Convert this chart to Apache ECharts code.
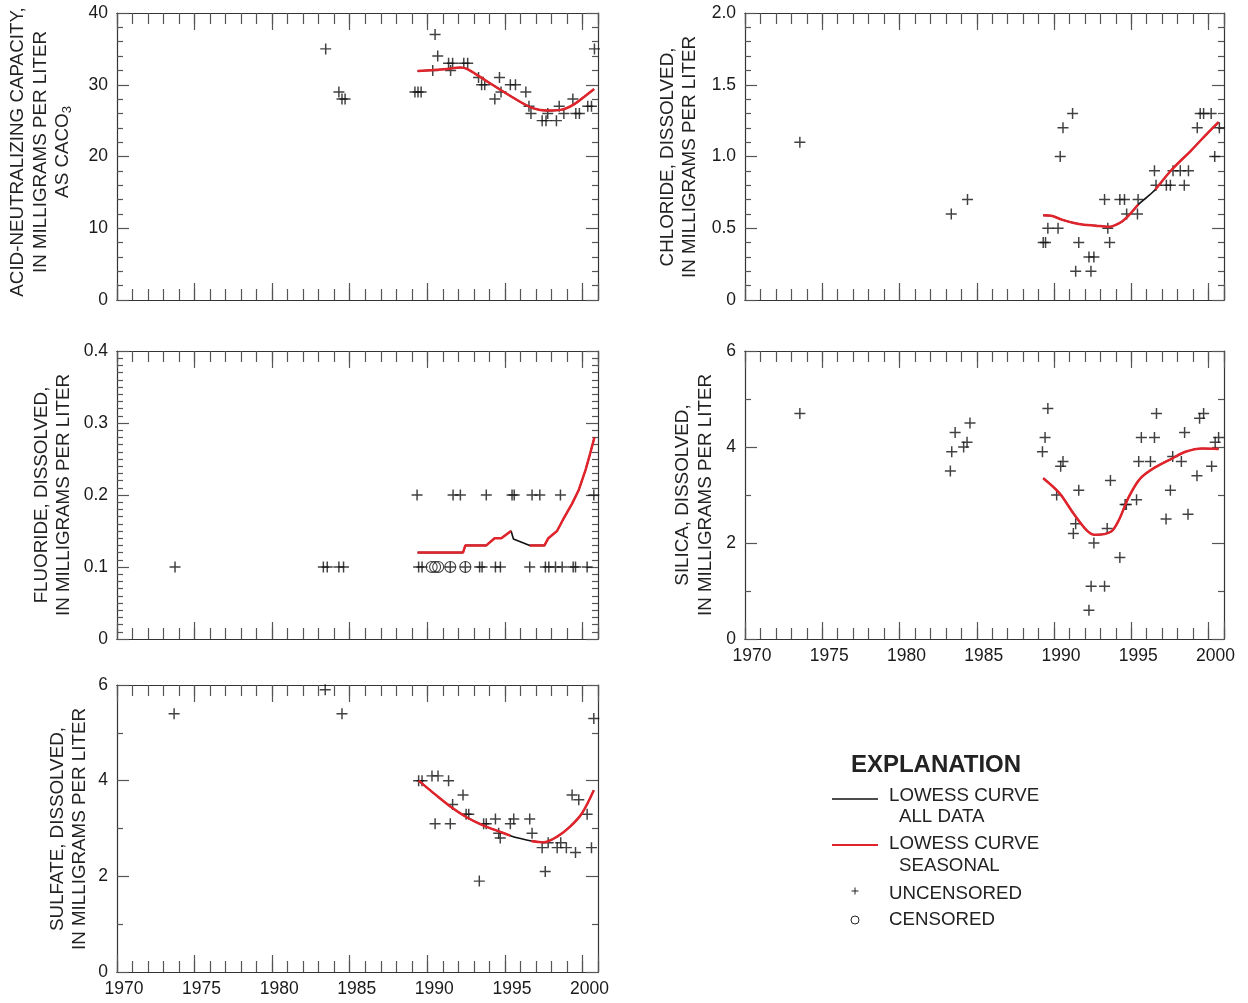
<!DOCTYPE html>
<html><head><meta charset="utf-8">
<script src="https://cdn.jsdelivr.net/npm/echarts@6/dist/echarts.min.js"></script>
<style>html,body{margin:0;padding:0;background:#fff}#c{width:1248px;height:1003px}</style>
</head><body><div id="c"></div>
<script>
// ---------- DATA ----------
// Acid-neutralizing capacity (mg/L as CaCO3)
const ancYears  = [1983.45,1984.3,1984.5,1984.7,1989.2,1989.4,1989.6,1990.35,1990.5,1990.67,1991.37,1991.5,1991.63,1992.35,1992.6,1993.3,1993.5,1993.7,1994.35,1994.65,1994.75,1995.35,1995.68,1996.35,1996.55,1996.68,1997.4,1997.65,1997.76,1998.32,1998.5,1998.8,1999.38,1999.57,1999.8,2000.34,2000.58,2000.77];
const ancValues = [35,29,28,28,29,29,29,32,37,34,33,32,33,33,33,31,30,30,28,31,29,30,30,29,27,26,25,25,26,25,27,26,28,26,26,27,27,35];
const ancSeasonalYears = [1989.37,1990.4,1991.26,1992.13,1992.56,1993.4,1994.7,1996.0,1996.85,1997.7,1998.6,1999.4,2000.1,2000.75];
const ancSeasonal      = [31.9,32.05,32.2,32.4,32.2,31.1,29.3,27.6,26.7,26.4,26.5,27.2,28.3,29.4];
const ancAllYears = ancSeasonalYears;
const ancAll      = ancSeasonal;

// Chloride (mg/L)
const clYears  = [1973.55,1983.35,1984.4,1989.3,1989.45,1989.6,1990.26,1990.4,1990.58,1991.2,1991.4,1991.6,1992.26,1992.39,1992.58,1993.27,1993.48,1993.6,1994.26,1994.56,1994.7,1995.4,1995.44,1996.5,1996.6,1997.27,1997.53,1997.7,1998.17,1998.43,1998.7,1999.27,1999.46,1999.68,2000.17,2000.4,2000.7];
const clValues = [1.1,0.6,0.7,0.4,0.4,0.5,0.5,1.0,1.2,1.3,0.2,0.4,0.3,0.2,0.3,0.7,0.5,0.4,0.7,0.7,0.6,0.6,0.7,0.9,0.8,0.8,0.8,0.9,0.9,0.8,0.9,1.2,1.3,1.3,1.3,1.0,1.2];
const clSeasonalYears = [1989.3,1989.9,1990.5,1991.6,1992.7,1993.55,1994.3,1994.84,1995.45,1996.0,1996.56,1997.6,1998.9,2000.0,2000.65];
const clSeasonal      = [0.59,0.585,0.56,0.53,0.518,0.51,0.54,0.59,0.665,'-',0.77,0.906,1.045,1.17,1.24];
const clAllYears = [1989.3,1989.9,1990.5,1991.6,1992.7,1993.55,1994.3,1994.84,1995.45,1996.0,1996.56,1997.6,1998.9,2000.0,2000.65];
const clAll      = [0.59,0.585,0.56,0.53,0.518,0.51,0.54,0.59,0.665,0.715,0.77,0.906,1.045,1.17,1.24];

// Fluoride (mg/L)
const fYears  = [1989.34,1991.66,1992.13,1993.8,1995.46,1995.6,1996.75,1997.25,1998.58,2000.73,
                 1973.74,1983.3,1983.55,1984.3,1984.6,1989.44,1989.66,1991.48,1992.45,1993.37,1993.53,1994.39,1994.71,1996.6,1997.61,1997.83,1998.26,1998.69,1999.4,1999.55,2000.3];
const fValues = [0.2,0.2,0.2,0.2,0.2,0.2,0.2,0.2,0.2,0.2,
                 0.1,0.1,0.1,0.1,0.1,0.1,0.1,0.1,0.1,0.1,0.1,0.1,0.1,0.1,0.1,0.1,0.1,0.1,0.1,0.1,0.1];
const fCensoredYears  = [1990.28,1990.5,1990.7,1991.48,1992.45];
const fCensoredValues = [0.1,0.1,0.1,0.1,0.1];
const fSeasonalYears = [1989.37,1992.3,1992.45,1993.8,1994.34,1994.77,1995.4,1996.0,1996.6,1997.55,1997.8,1998.36,1998.8,1999.33,1999.76,2000.2,2000.5,2000.77];
const fSeasonal      = [0.12,0.12,0.13,0.13,0.14,0.14,0.15,'-',0.13,0.13,0.14,0.15,0.168,0.188,0.207,0.235,0.258,0.28];
const fAllYears = [1989.37,1992.3,1992.45,1993.8,1994.34,1994.77,1995.4,1995.55,1996.6,1997.55,1997.8,1998.36,1998.8,1999.33,1999.76,2000.2,2000.5,2000.77];
const fAll      = [0.12,0.12,0.13,0.13,0.14,0.14,0.15,0.139,0.13,0.13,0.14,0.15,0.168,0.188,0.207,0.235,0.258,0.28];

// Silica (mg/L)
const siYears  = [1973.55,1983.29,1983.38,1983.6,1984.15,1984.37,1984.56,1989.25,1989.42,1989.6,1990.17,1990.43,1990.58,1991.25,1991.4,1991.6,1992.26,1992.4,1992.58,1993.27,1993.44,1993.65,1994.26,1994.6,1994.68,1995.34,1995.48,1995.65,1996.24,1996.5,1996.63,1997.25,1997.53,1997.68,1998.24,1998.45,1998.67,1999.25,1999.42,1999.68,2000.2,2000.43,2000.65];
const siValues = [4.7,3.5,3.9,4.3,4.0,4.1,4.5,3.9,4.2,4.8,3.0,3.6,3.7,2.2,2.4,3.1,0.6,1.1,2.0,1.1,2.3,3.3,1.7,2.8,2.8,2.9,3.7,4.2,3.7,4.2,4.7,2.5,3.1,3.8,3.7,4.3,2.6,3.4,4.6,4.7,3.6,4.1,4.2];
const siSeasonalYears = [1989.3,1990.35,1991.25,1992.1,1992.65,1993.7,1994.2,1994.84,1995.6,1996.56,1997.63,1998.5,1999.57,2000.65];
const siSeasonal      = [3.35,3.04,2.62,2.27,2.17,2.24,2.48,2.96,3.35,3.58,3.76,3.9,3.97,3.96];
const siAllYears = siSeasonalYears;
const siAll      = siSeasonal;

// Sulfate (mg/L)
const soYears  = [1973.68,1983.42,1984.5,1989.44,1989.66,1990.3,1990.69,1990.5,1991.37,1991.48,1991.63,1992.3,1992.5,1992.67,1993.35,1993.63,1993.8,1994.39,1994.6,1994.7,1995.35,1995.57,1996.6,1996.75,1997.4,1997.6,1997.79,1998.37,1998.6,1998.96,1999.33,1999.55,1999.76,2000.3,2000.58,2000.73];
const soValues = [5.4,5.9,5.4,4.0,4.0,4.1,4.1,3.1,4.0,3.1,3.5,3.7,3.3,3.3,1.9,3.1,3.1,3.2,2.9,2.8,3.1,3.2,3.2,2.9,2.6,2.1,2.7,2.6,2.7,2.6,3.7,2.5,3.6,3.3,2.6,5.3];
const soSeasonalYears = [1989.44,1990.4,1991.48,1992.56,1993.63,1994.7,1995.35,1996.0,1996.7,1997.5,1998.37,1999.2,1999.97,2000.73];
const soSeasonal      = [4.0,3.74,3.46,3.23,3.06,2.93,2.85,'-',2.74,2.71,2.83,3.04,3.32,3.8];
const soAllYears = [1989.44,1990.4,1991.48,1992.56,1993.63,1994.7,1995.35,1996.0,1996.7,1997.5,1998.37,1999.2,1999.97,2000.73];
const soAll      = [4.0,3.74,3.46,3.23,3.06,2.93,2.85,2.79,2.74,2.71,2.83,3.04,3.32,3.8];

// Axis settings
const xMin = 1970, xMax = 2001;
const xTickLabels = [1970,1975,1980,1985,1990,1995,2000];

// ---------- CHART ----------
const FONT = '"Liberation Sans", Arial, Helvetica, sans-serif';
const zip = (a, b) => a.map((v, i) => [v, b[i]]);
const AXIS = '#333', TICK = '#555', RED = '#e1232b', INK = '#111';
const PLUS = 'path://M4.33,0H5.67V4.33H10V5.67H5.67V10H4.33V5.67H0V4.33H4.33Z';

const panels = [
  {grid:{left:117,top:13,width:481,height:287}, ymax:40, yint:10, ysplit:5, fmt:v=>String(v), xlab:false,
   pts:zip(ancYears,ancValues), cens:null, red:zip(ancSeasonalYears,ancSeasonal), blk:zip(ancAllYears,ancAll)},
  {grid:{left:745,top:13,width:479,height:287}, ymax:2, yint:0.5, ysplit:5, fmt:v=>v===0?'0':v.toFixed(1), xlab:false,
   pts:zip(clYears,clValues), cens:null, red:zip(clSeasonalYears,clSeasonal), blk:zip(clAllYears,clAll)},
  {grid:{left:117,top:351,width:481,height:288}, ymax:0.4, yint:0.1, ysplit:10, fmt:v=>v===0?'0':v.toFixed(1), xlab:false,
   pts:zip(fYears,fValues), cens:zip(fCensoredYears,fCensoredValues), red:zip(fSeasonalYears,fSeasonal), blk:zip(fAllYears,fAll)},
  {grid:{left:745,top:351,width:479,height:288}, ymax:6, yint:2, ysplit:2, fmt:v=>String(v), xlab:true,
   pts:zip(siYears,siValues), cens:null, red:zip(siSeasonalYears,siSeasonal), blk:zip(siAllYears,siAll)},
  {grid:{left:117,top:685,width:481,height:287}, ymax:6, yint:2, ysplit:2, fmt:v=>String(v), xlab:true,
   pts:zip(soYears,soValues), cens:null, red:zip(soSeasonalYears,soSeasonal), blk:zip(soAllYears,soAll)}
];

const grid = [], xAxis = [], yAxis = [], series = [];
panels.forEach((p, g) => {
  grid.push(p.grid);
  const baseX = (pos, interval, len, labels) => ({
    gridIndex: g, type: 'value', min: xMin, max: xMax, interval: interval, position: pos,
    axisLine: {show: true, onZero: false, lineStyle: {color: AXIS, width: 1.2}},
    axisTick: {show: true, inside: true, length: len, lineStyle: {color: TICK, width: 1.2}},
    splitLine: {show: false},
    axisLabel: labels ? {show: true, color: '#1a1a1a', fontSize: 17.5, fontFamily: FONT, margin: 8, padding: [0,0,0,14],
      formatter: v => xTickLabels.indexOf(v) >= 0 ? String(v) : ''} : {show: false}
  });
  const xi = xAxis.length;
  xAxis.push(baseX('bottom', 1, 11, false));
  xAxis.push(baseX('bottom', 5, 17, p.xlab));
  xAxis.push(baseX('top', 1, 11, false));
  xAxis.push(baseX('top', 5, 17, false));
  const baseY = (pos, labels) => ({
    gridIndex: g, type: 'value', min: 0, max: p.ymax, interval: p.yint, position: pos,
    axisLine: {show: true, onZero: false, lineStyle: {color: AXIS, width: 1.2}},
    axisTick: {show: true, inside: true, length: 12, lineStyle: {color: TICK, width: 1.2}},
    minorTick: {show: true, splitNumber: p.ysplit, length: 6, lineStyle: {color: TICK, width: 1.2}},
    splitLine: {show: false}, minorSplitLine: {show: false},
    axisLabel: labels ? {show: true, color: '#1a1a1a', fontSize: 17.5, fontFamily: FONT, margin: 9, formatter: p.fmt} : {show: false}
  });
  const yi = yAxis.length;
  yAxis.push(baseY('left', true));
  yAxis.push(baseY('right', false));
  series.push({type: 'scatter', xAxisIndex: xi, yAxisIndex: yi, data: p.pts, symbol: PLUS, symbolSize: 11,
    itemStyle: {color: INK}, z: 2, silent: true});
  if (p.cens) series.push({type: 'scatter', xAxisIndex: xi, yAxisIndex: yi, data: p.cens, symbol: 'circle', symbolSize: 11,
    itemStyle: {color: 'rgba(0,0,0,0)', borderColor: INK, borderWidth: 1.1}, z: 2, silent: true});
  series.push({type: 'line', xAxisIndex: xi, yAxisIndex: yi, data: p.blk, symbol: 'none', smooth: g === 2 ? false : 0.3,
    lineStyle: {color: '#111', width: 1.6}, z: 3, silent: true});
  series.push({type: 'line', xAxisIndex: xi, yAxisIndex: yi, data: p.red, symbol: 'none', smooth: g === 2 ? false : 0.3,
    connectNulls: false, lineStyle: {color: RED, width: 2.5}, z: 4, silent: true});
});

const titleStyle = (text, extra) => Object.assign({
  text: text, font: '18.8px ' + FONT, fill: '#222', align: 'center', verticalAlign: 'middle', lineHeight: 22.5
}, extra || {});
const yTitle = (x, y, text, extra) => ({type: 'text', x: x, y: y, rotation: Math.PI / 2, style: titleStyle(text, extra), silent: true});
const lbl = (x, y, text, font) => ({type: 'text', x: x, y: y, style: {text: text, font: font || ('18.7px ' + FONT), fill: '#222', align: 'left', verticalAlign: 'middle'}, silent: true});

const graphic = [
  yTitle(40.5, 152, 'ACID-NEUTRALIZING CAPACITY,\nIN MILLIGRAMS PER LITER\nAS CACO{sub|3}',
    {rich: {sub: {fontSize: 13, fontFamily: FONT, fill: '#222', lineHeight: 13, verticalAlign: 'bottom'}}}),
  yTitle(679, 157, 'CHLORIDE, DISSOLVED,\nIN MILLIGRAMS PER LITER'),
  yTitle(53, 495, 'FLUORIDE, DISSOLVED,\nIN MILLIGRAMS PER LITER'),
  yTitle(694.5, 495, 'SILICA, DISSOLVED,\nIN MILLIGRAMS PER LITER'),
  yTitle(69, 829, 'SULFATE, DISSOLVED,\nIN MILLIGRAMS PER LITER'),
  // Explanation
  {type: 'text', x: 936, y: 765, style: {text: 'EXPLANATION', font: 'bold 24px ' + FONT, fill: '#222', align: 'center', verticalAlign: 'middle'}, silent: true},
  {type: 'line', shape: {x1: 832, y1: 799, x2: 878, y2: 799}, style: {stroke: '#111', lineWidth: 1.6}, silent: true},
  lbl(889, 796, 'LOWESS CURVE'), lbl(899, 817, 'ALL DATA'),
  {type: 'line', shape: {x1: 832, y1: 845, x2: 878, y2: 845}, style: {stroke: RED, lineWidth: 2}, silent: true},
  lbl(889, 844, 'LOWESS CURVE'), lbl(899, 866, 'SEASONAL'),
  {type: 'line', shape: {x1: 851.5, y1: 891, x2: 858.5, y2: 891}, style: {stroke: '#222', lineWidth: 1}, silent: true},
  {type: 'line', shape: {x1: 855, y1: 887.5, x2: 855, y2: 894.5}, style: {stroke: '#222', lineWidth: 1}, silent: true},
  lbl(889, 894, 'UNCENSORED'),
  {type: 'circle', shape: {cx: 855, cy: 920, r: 4}, style: {fill: 'none', stroke: '#222', lineWidth: 1}, silent: true},
  lbl(889, 920, 'CENSORED')
];

const chart = echarts.init(document.getElementById('c'), null, {renderer: 'canvas'});
chart.setOption({animation: false, backgroundColor: '#fff', grid, xAxis, yAxis, series, graphic});
</script></body></html>
